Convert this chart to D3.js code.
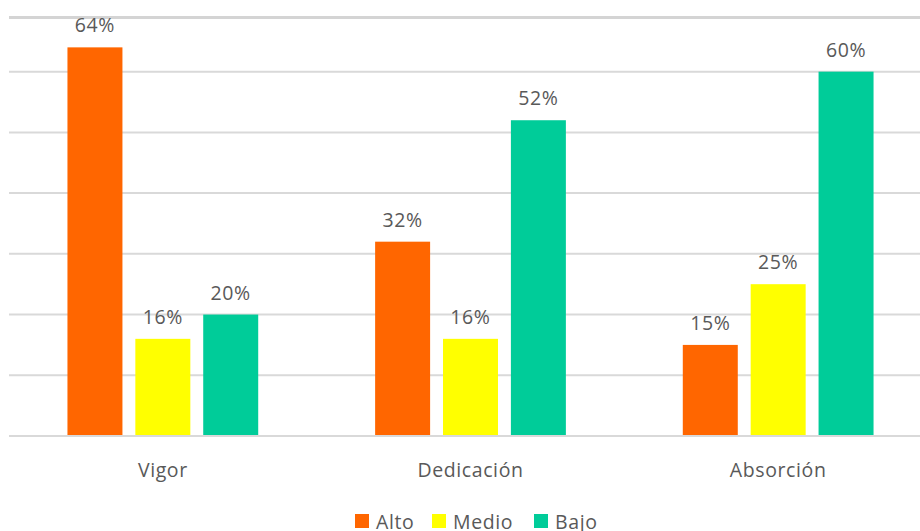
<!DOCTYPE html>
<html>
<head>
<meta charset="utf-8">
<script src="https://cdn.jsdelivr.net/npm/d3@7"></script>
<style>
  html, body { margin: 0; padding: 0; background: #fff; }
  svg { display: block; }
  text { font-family: "Open Sans", "Segoe UI", sans-serif; fill: #595959; letter-spacing: 0.6px; }
</style>
</head>
<body>
<svg id="chart" width="920" height="531"></svg>
<script>
// Engagement dimensions and the share of each level
const categories = ["Vigor", "Dedicación", "Absorción"];
const seriesNames = ["Alto", "Medio", "Bajo"];
const alto  = [0.64, 0.32, 0.15];
const medio = [0.16, 0.16, 0.25];
const bajo  = [0.20, 0.52, 0.60];
const gridTicks = [0, 0.1, 0.2, 0.3, 0.4, 0.5, 0.6];
const colors = ["#FF6600", "#FFFF00", "#00CC99"];

const seriesValues = [alto, medio, bajo];
const rows = categories.map((c, i) => ({
  category: c,
  values: seriesNames.map((s, j) => ({ series: s, value: seriesValues[j][i], color: colors[j] }))
}));

const svg = d3.select("#chart");
const plot = { left: 9, right: 932, top: 17, bottom: 436 };
const fontSize = "19.5px";

const x0 = d3.scaleBand().domain(categories).range([plot.left, plot.right])
  .paddingInner(0.38).paddingOuter(0.19);
const x1 = d3.scaleBand().domain(seriesNames).range([0, x0.bandwidth()])
  .paddingInner(0.19).paddingOuter(0);
const y = d3.scaleLinear().domain([0, 0.69]).range([plot.bottom, plot.top]);

// top frame line of the plot area
svg.append("line")
  .attr("x1", plot.left).attr("x2", 920)
  .attr("y1", plot.top + 0.5).attr("y2", plot.top + 0.5)
  .attr("stroke", "#d4d4d4").attr("stroke-width", 3);

// horizontal gridlines
svg.append("g").selectAll("line").data(gridTicks).join("line")
  .attr("x1", plot.left).attr("x2", 920)
  .attr("y1", d => y(d)).attr("y2", d => y(d))
  .attr("stroke", "#d9d9d9").attr("stroke-width", 2);

// grouped bars
const groups = svg.append("g").selectAll("g").data(rows).join("g")
  .attr("transform", d => `translate(${x0(d.category)},0)`);

groups.selectAll("rect").data(d => d.values).join("rect")
  .attr("x", d => x1(d.series))
  .attr("width", x1.bandwidth())
  .attr("y", d => y(d.value))
  .attr("height", d => y(0) - y(d.value) - 1)
  .attr("fill", d => d.color);

// value labels
groups.selectAll("text").data(d => d.values).join("text")
  .attr("x", d => x1(d.series) + x1.bandwidth() / 2)
  .attr("y", d => y(d.value) - 15)
  .attr("text-anchor", "middle")
  .style("font-size", fontSize)
  .text(d => Math.round(d.value * 100) + "%");

// category axis labels
const xAxis = d3.axisBottom(x0).tickSize(0).tickPadding(0);
const axisG = svg.append("g").attr("transform", `translate(0,${plot.bottom})`).call(xAxis);
axisG.select(".domain").remove();
axisG.selectAll("text")
  .attr("dy", null)
  .attr("y", 41)
  .style("font-size", fontSize)
  .style("fill", "#595959")
  .style("font-family", "'Open Sans', 'Segoe UI', sans-serif");

// legend
const legendItems = [
  { name: seriesNames[0], color: colors[0], x: 355 },
  { name: seriesNames[1], color: colors[1], x: 432 },
  { name: seriesNames[2], color: colors[2], x: 534 }
];
const legend = svg.append("g").selectAll("g").data(legendItems).join("g")
  .attr("transform", d => `translate(${d.x},514)`);
legend.append("rect").attr("width", 14).attr("height", 14).attr("fill", d => d.color);
legend.append("text").attr("x", 21).attr("y", 15)
  .style("font-size", fontSize).text(d => d.name);
</script>
</body>
</html>
